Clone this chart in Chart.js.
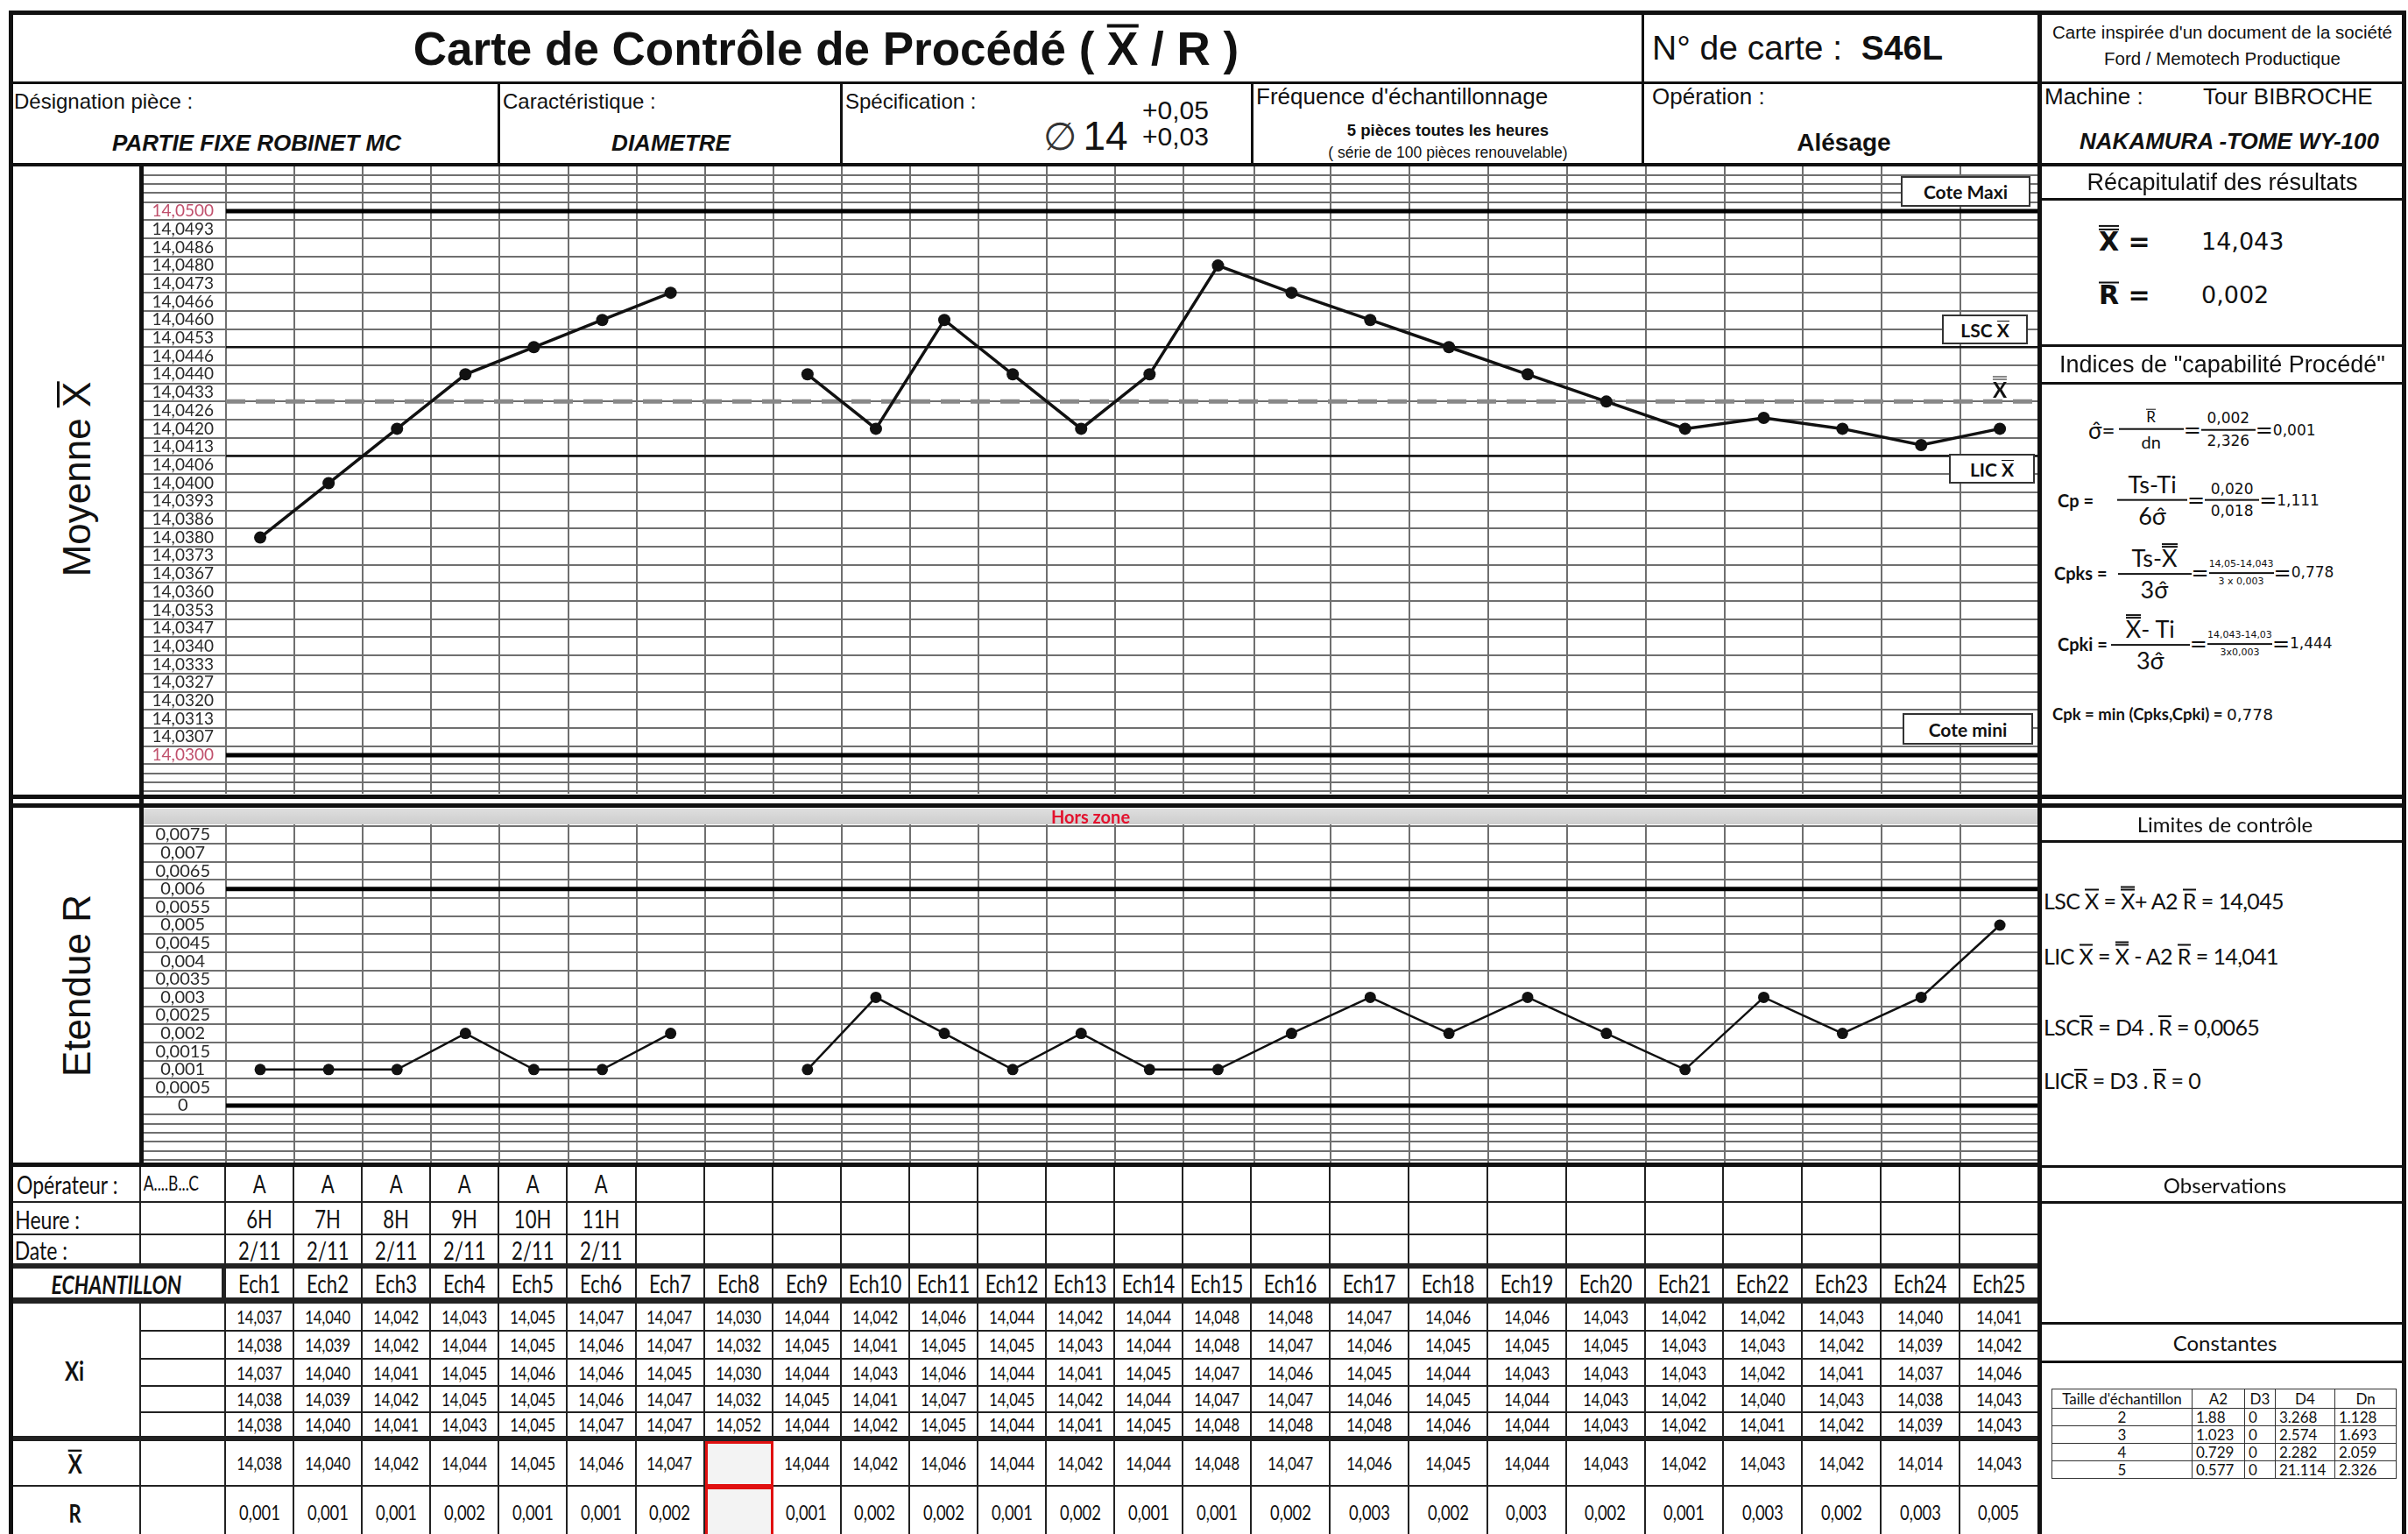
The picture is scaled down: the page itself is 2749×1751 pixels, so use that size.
<!DOCTYPE html>
<html lang="fr">
<head>
<meta charset="utf-8">
<title>Carte de Contrôle de Procédé (X/R)</title>
<script src="https://cdn.jsdelivr.net/npm/chart.js@4.4.1/dist/chart.umd.min.js"></script>
<style>
  html, body { margin: 0; padding: 0; background: #fff; }
  #page { position: relative; width: 2749px; height: 1751px; overflow: hidden;
          font-family: "Liberation Sans", Arial, sans-serif; color: #111; }
  #page * { box-sizing: border-box; }
  .ln { position: absolute; background: #111; }
  .t { position: absolute; white-space: nowrap; line-height: 1; }
  .t.l { transform: translateY(-50%); }
  .t.c { transform: translate(-50%, -50%); text-align: center; }
  .t.row { display: flex; align-items: center; }
  .cal { font-family: Lato, "Noto Sans", sans-serif; }
  .ver { font-family: "DejaVu Sans", sans-serif; }
  .bar { display: inline-block; border-top: 0.08em solid currentColor; line-height: 0.8; padding-top: 0.05em; }
  .dbar { display: inline-block; border-top: 0.2em double currentColor; line-height: 0.8; padding-top: 0.04em; }
  .box { position: absolute; background: #fff; border: 2px solid #333; display: flex;
         align-items: center; justify-content: center; font: bold 21px Lato, sans-serif; }
  canvas { position: absolute; }
  #sheet { position: absolute; left: 12px; top: 1330px; display: grid; }
  #sheet > div { border-right: 2px solid #222; border-bottom: 2px solid #222; display: flex;
                 align-items: center; justify-content: center; font-family: Lato, sans-serif;
                 font-size: 18px; white-space: nowrap; overflow: hidden; }
  .cond { display: inline-block; transform: scale(0.92, 1.18); }
  .frac { display: inline-flex; flex-direction: column; align-items: stretch; text-align: center; }
  .frac > span { display: block; line-height: 1.05; }
  .frac > span:first-child { border-bottom: 2px solid #111; padding-bottom: 3px; }
  .frac > span:last-child { padding-top: 3px; }
  .eq { font-family: "DejaVu Sans", sans-serif; font-size: 24px; line-height: 1; }
  #const { position: absolute; left: 2342px; top: 1585px; border-collapse: collapse;
           font: 17px Lato, sans-serif; }
  #const td { border: 1.5px solid #333; padding: 0 4px; height: 20px; line-height: 1; }
</style>
</head>
<body>
<div id="page">
  <canvas id="xbarChart" width="2167" height="716" style="left:161px; top:190px"></canvas>
  <canvas id="rangeChart" width="2167" height="407" style="left:161px; top:923px"></canvas>
  <div id="sheet"></div>
  <table id="const"></table>
</div>
<script>
// ---- sample data ----
const samples = ['Ech1', 'Ech2', 'Ech3', 'Ech4', 'Ech5', 'Ech6', 'Ech7', 'Ech8', 'Ech9', 'Ech10',
  'Ech11', 'Ech12', 'Ech13', 'Ech14', 'Ech15', 'Ech16', 'Ech17', 'Ech18', 'Ech19', 'Ech20',
  'Ech21', 'Ech22', 'Ech23', 'Ech24', 'Ech25'];
const operators = ['A', 'A', 'A', 'A', 'A', 'A'];
const hours = ['6H', '7H', '8H', '9H', '10H', '11H'];
const dates = ['2/11', '2/11', '2/11', '2/11', '2/11', '2/11'];

const xi1 = ['14,037', '14,040', '14,042', '14,043', '14,045', '14,047', '14,047', '14,030', '14,044', '14,042', '14,046', '14,044', '14,042', '14,044', '14,048', '14,048', '14,047', '14,046', '14,046', '14,043', '14,042', '14,042', '14,043', '14,040', '14,041'];
const xi2 = ['14,038', '14,039', '14,042', '14,044', '14,045', '14,046', '14,047', '14,032', '14,045', '14,041', '14,045', '14,045', '14,043', '14,044', '14,048', '14,047', '14,046', '14,045', '14,045', '14,045', '14,043', '14,043', '14,042', '14,039', '14,042'];
const xi3 = ['14,037', '14,040', '14,041', '14,045', '14,046', '14,046', '14,045', '14,030', '14,044', '14,043', '14,046', '14,044', '14,041', '14,045', '14,047', '14,046', '14,045', '14,044', '14,043', '14,043', '14,043', '14,042', '14,041', '14,037', '14,046'];
const xi4 = ['14,038', '14,039', '14,042', '14,045', '14,045', '14,046', '14,047', '14,032', '14,045', '14,041', '14,047', '14,045', '14,042', '14,044', '14,047', '14,047', '14,046', '14,045', '14,044', '14,043', '14,042', '14,040', '14,043', '14,038', '14,043'];
const xi5 = ['14,038', '14,040', '14,041', '14,043', '14,045', '14,047', '14,047', '14,052', '14,044', '14,042', '14,045', '14,044', '14,041', '14,045', '14,048', '14,048', '14,048', '14,046', '14,044', '14,043', '14,042', '14,041', '14,042', '14,039', '14,043'];
const xbarRow = ['14,038', '14,040', '14,042', '14,044', '14,045', '14,046', '14,047', '', '14,044', '14,042', '14,046', '14,044', '14,042', '14,044', '14,048', '14,047', '14,046', '14,045', '14,044', '14,043', '14,042', '14,043', '14,042', '14,014', '14,043'];
const rangeRow = ['0,001', '0,001', '0,001', '0,002', '0,001', '0,001', '0,002', '', '0,001', '0,002', '0,002', '0,001', '0,002', '0,001', '0,001', '0,002', '0,003', '0,002', '0,003', '0,002', '0,001', '0,003', '0,002', '0,003', '0,005'];

// plotted points (sample 8 rejected: no point)
const xbarPoints = [14.038, 14.040, 14.042, 14.044, 14.045, 14.046, 14.047, null, 14.044, 14.042, 14.046, 14.044, 14.042, 14.044, 14.048, 14.047, 14.046, 14.045, 14.044, 14.043, 14.042, 14.0424, 14.042, 14.0414, 14.042];
const rangePoints = [0.001, 0.001, 0.001, 0.002, 0.001, 0.001, 0.002, null, 0.001, 0.003, 0.002, 0.001, 0.002, 0.001, 0.001, 0.002, 0.003, 0.002, 0.003, 0.002, 0.001, 0.003, 0.002, 0.003, 0.005];

const xbarTicks = ['14,0300', '14,0307', '14,0313', '14,0320', '14,0327', '14,0333', '14,0340', '14,0347', '14,0353', '14,0360', '14,0367', '14,0373', '14,0380', '14,0386', '14,0393', '14,0400', '14,0406', '14,0413', '14,0420', '14,0426', '14,0433', '14,0440', '14,0446', '14,0453', '14,0460', '14,0466', '14,0473', '14,0480', '14,0486', '14,0493', '14,0500'];
const rangeTicks = ['0', '0,0005', '0,001', '0,0015', '0,002', '0,0025', '0,003', '0,0035', '0,004', '0,0045', '0,005', '0,0055', '0,006', '0,0065', '0,007', '0,0075'];

const coteMaxi = 14.05, coteMini = 14.03, lscX = 14.045, licX = 14.041, xbarbar = 14.043;
const rLimitHigh = 0.006, rLimitLow = 0;

const sampleSizes = ['2', '3', '4', '5'];
const a2 = ['1.88', '1.023', '0.729', '0.577'];
const d3 = ['0', '0', '0', '0'];
const d4 = ['3.268', '2.574', '2.282', '21.114'];
const dn = ['1.128', '1.693', '2.059', '2.326'];

// ---- sheet geometry: the first 15 sample columns are narrower than the last 10 ----
const columnWidths = Array(15).fill(78.1).concat(Array(10).fill(89.85));
const GRID = '#6f6f6f';

// category axis whose columns follow the sheet widths
class SheetColumns extends Chart.CategoryScale {
  getPixelForValue(value) {
    if (typeof value !== 'number') value = this.parse(value);
    if (value === null || isNaN(value)) return NaN;
    const total = columnWidths.reduce((a, b) => a + b, 0);
    let acc = columnWidths[value] / 2;
    for (let i = 0; i < value; i++) acc += columnWidths[i];
    return this.getPixelForDecimal(acc / total);
  }
}
SheetColumns.id = 'sheetColumns';
SheetColumns.defaults = Chart.CategoryScale.defaults;
Chart.register(SheetColumns);

// horizontal limit lines across the plot area
const limitLines = {
  id: 'limitLines',
  beforeDatasetsDraw(chart, args, opts) {
    const { ctx, chartArea: a, scales: { y } } = chart;
    (opts.lines || []).forEach(l => {
      const py = y.getPixelForValue(l.value);
      ctx.save();
      ctx.strokeStyle = l.color;
      ctx.lineWidth = l.width;
      ctx.setLineDash(l.dash || []);
      ctx.beginPath();
      ctx.moveTo(a.left, py);
      ctx.lineTo(a.right, py);
      ctx.stroke();
      ctx.restore();
    });
  }
};

// labelled ticks every step, ruled lines half-way between them
function halfTicks(first, step) {
  return scale => {
    const half = step / 2;
    const k0 = Math.ceil((scale.min - first) / half - 1e-6);
    const k1 = Math.floor((scale.max - first) / half + 1e-6);
    const ticks = [];
    for (let k = k0; k <= k1; k++) ticks.push({ value: first + k * half });
    scale.ticks = ticks;
  };
}
function halfTickLabel(labels, first, step) {
  return value => {
    const k = Math.round((value - first) / (step / 2));
    if (k % 2 !== 0) return '';
    const j = k / 2;
    return j >= 0 && j < labels.length ? labels[j] : '';
  };
}

function axisOptions(min, max, labels, first, step, fontSize, padding, labelColor) {
  return {
    x: {
      type: 'sheetColumns', offset: true,
      grid: { offset: true, color: GRID, lineWidth: 2, drawTicks: false },
      border: { display: false },
      ticks: { display: false }
    },
    y: {
      type: 'linear', min: min, max: max, bounds: 'data',
      afterBuildTicks: halfTicks(first, step),
      afterFit: s => { s.width = 97; s.paddingTop = 0; s.paddingBottom = 0; },
      border: { display: false },
      grid: {
        color: c => (c.tick && c.tick.label === '') ? GRID : 'rgba(0,0,0,0)',
        lineWidth: 2, drawTicks: true, tickLength: 97
      },
      ticks: {
        autoSkip: false, crossAlign: 'center', padding: padding,
        font: { family: 'Lato', size: fontSize },
        color: labelColor,
        callback: halfTickLabel(labels, first, step)
      }
    }
  };
}

function baseOptions() {
  return {
    responsive: false, animation: false, events: [], devicePixelRatio: 1,
    layout: { padding: 0, autoPadding: false }
  };
}

new Chart(document.getElementById('xbarChart'), {
  type: 'line',
  data: {
    labels: samples,
    datasets: [{
      data: xbarPoints, borderColor: '#111', borderWidth: 3.5, tension: 0, spanGaps: false,
      pointRadius: 7, pointBackgroundColor: '#111', pointBorderWidth: 0
    }]
  },
  options: Object.assign(baseOptions(), {
    plugins: {
      legend: { display: false }, tooltip: { enabled: false },
      limitLines: {
        lines: [
          { value: coteMaxi, color: '#000', width: 5 },
          { value: coteMini, color: '#000', width: 5 },
          { value: lscX, color: '#111', width: 2.5 },
          { value: licX, color: '#111', width: 2.5 },
          { value: xbarbar, color: '#888', width: 5, dash: [22, 12] }
        ]
      }
    },
    scales: axisOptions(14.028583, 14.051643, xbarTicks, 14.03, 0.02 / 30, 19, -83,
      c => (c.tick.label === '14,0500' || c.tick.label === '14,0300') ? '#c0506c' : '#2a2a2a')
  }),
  plugins: [limitLines]
});

new Chart(document.getElementById('rangeChart'), {
  type: 'line',
  data: {
    labels: samples,
    datasets: [{
      data: rangePoints, borderColor: '#111', borderWidth: 2.5, tension: 0, spanGaps: false,
      pointRadius: 6.5, pointBackgroundColor: '#111', pointBorderWidth: 0
    }]
  },
  options: Object.assign(baseOptions(), {
    plugins: {
      legend: { display: false }, tooltip: { enabled: false },
      limitLines: {
        lines: [
          { value: rLimitHigh, color: '#000', width: 5 },
          { value: rLimitLow, color: '#000', width: 5 }
        ]
      }
    },
    scales: axisOptions(-0.00165, 0.008228, rangeTicks, 0, 0.0005, 20, -79, '#2a2a2a')
  }),
  plugins: [limitLines]
});

// ---- form layout ----
const page = document.getElementById('page');
function line(x, y, w, h, color) {
  const d = document.createElement('div');
  d.className = 'ln';
  Object.assign(d.style, { left: x + 'px', top: y + 'px', width: w + 'px', height: h + 'px' });
  if (color) d.style.background = color;
  page.appendChild(d);
}
function text(html, x, y, css, align) {
  const d = document.createElement('div');
  d.className = 't ' + (align || 'l');
  d.innerHTML = html;
  d.style.left = x + 'px';
  d.style.top = y + 'px';
  if (css) d.style.cssText += css;
  page.appendChild(d);
  return d;
}
function box(html, x, y, w, h) {
  const d = document.createElement('div');
  d.className = 'box';
  d.innerHTML = '<span>' + html + '</span>';
  Object.assign(d.style, { left: x + 'px', top: y + 'px', width: w + 'px', height: h + 'px' });
  page.appendChild(d);
}
function frac(num, den, css) {
  return `<span class="frac" style="${css || ''}"><span>${num}</span><span>${den}</span></span>`;
}
const X1 = '<span class="bar">X</span>';
const X2 = '<span class="dbar">X</span>';
const R1 = '<span class="bar">R</span>';
const SIG = 'σ̂';

// gray "out of range" strip on top of the range chart
const band = document.createElement('div');
Object.assign(band.style, { position: 'absolute', left: '161px', top: '923px', width: '2167px', height: '18px',
  background: 'linear-gradient(#dedede, #cdcdcd)' });
page.appendChild(band);
text('Hors zone', 1245, 932, 'font: bold 20px Lato; color: #e3122e', 'c');

// frame
line(10, 12, 2737, 5);
line(10, 12, 5, 1745);
line(2742, 12, 5, 1745);
line(10, 93, 2737, 3);
line(10, 186, 2737, 4);
line(1874, 12, 3, 176);
line(568, 93, 3, 95);
line(959, 93, 3, 95);
line(1428, 93, 3, 95);
line(2326, 12, 5, 1745);
line(159, 188, 5, 1142);
line(10, 907, 2737, 5);
line(10, 917, 2737, 5);
line(10, 1327, 2318, 5);
[226, 393, 436, 959, 1330, 1371, 1509, 1553].forEach(y => line(2328, y, 417, 3));

// header
text(`Carte de Contrôle de Procédé ( ${X1} / R )`, 943, 55, 'font: bold 53px "Liberation Sans"', 'c');
text('N° de carte :&nbsp; <b>S46L</b>', 1886, 55, 'font: 39px "Liberation Sans"');
text('Carte inspirée d\'un document de la société', 2537, 37, 'font: 20.5px "Liberation Sans"', 'c');
text('Ford / Memotech Productique', 2537, 67, 'font: 20.5px "Liberation Sans"', 'c');
text('Désignation pièce :', 16, 116, 'font: 24px "Liberation Sans"');
text('PARTIE FIXE ROBINET MC', 293, 163, 'font: italic bold 26px "Liberation Sans"', 'c');
text('Caractéristique :', 574, 116, 'font: 24px "Liberation Sans"');
text('DIAMETRE', 766, 163, 'font: italic bold 26px "Liberation Sans"', 'c');
text('Spécification :', 965, 116, 'font: 24px "Liberation Sans"');
text('∅', 1210, 155, 'font: 44px "DejaVu Sans"; font-weight: 200; color: #333', 'c');
text('14', 1262, 155, 'font: 46px "Liberation Sans"', 'c');
text('+0,05', 1342, 126, 'font: 30px "Liberation Sans"', 'c');
text('+0,03', 1342, 156, 'font: 30px "Liberation Sans"', 'c');
text('Fréquence d\'échantillonnage', 1434, 110, 'font: 26px "Liberation Sans"');
text('5 pièces toutes les heures', 1653, 149, 'font: bold 18.5px "Liberation Sans"', 'c');
text('( série de 100 pièces renouvelable)', 1653, 174, 'font: 17.5px "Liberation Sans"', 'c');
text('Opération :', 1886, 110, 'font: 26px "Liberation Sans"');
text('Alésage', 2105, 163, 'font: bold 28px "Liberation Sans"', 'c');
text('Machine :', 2334, 110, 'font: 26px "Liberation Sans"');
text('Tour BIBROCHE', 2515, 110, 'font: 26px "Liberation Sans"');
text('NAKAMURA -TOME WY-100', 2545, 161, 'font: italic bold 26px "Liberation Sans"', 'c');

// axis captions
text(`Moyenne ${X1}`, 88, 547, 'font: 44px "Liberation Sans"; transform: translate(-50%,-50%) rotate(-90deg)', 'c');
text('Etendue R', 88, 1125, 'font: 44px "Liberation Sans"; transform: translate(-50%,-50%) rotate(-90deg)', 'c');

// limit tags on the mean chart
box('Cote Maxi', 2170, 201, 148, 35);
box(`LSC ${X1}`, 2217, 359, 98, 34);
text(X2, 2283, 444, 'font: bold 24px Lato', 'c');
box(`LIC ${X1}`, 2225, 518, 98, 34);
box('Cote mini', 2172, 814, 149, 36);

// summary panel
text('Récapitulatif des résultats', 2537, 208, 'font: 27px "Liberation Sans"', 'c');
text(`${X2} =`, 2396, 275, 'font: bold 30px "DejaVu Sans"');
text('14,043', 2513, 275, 'font: 27px "DejaVu Sans"');
text(`${R1} =`, 2396, 336, 'font: bold 30px "DejaVu Sans"');
text('0,002', 2513, 336, 'font: 27px "DejaVu Sans"');
text('Indices de "capabilité Procédé"', 2537, 416, 'font: 27px "Liberation Sans"', 'c');

const numCss = 'font:17px \'DejaVu Sans\'';
const tinyCss = 'font:11px \'DejaVu Sans\'';
const valHtml = v => `<span class="eq">=</span><span class="ver" style="font-size:17px">${v}</span>`;
text(`<span class="cal" style="font-size:26px">${SIG}=</span>` +
  frac(`<span class="cal" style="font-size:17px">${R1}</span>`, '<span class="cal" style="font-size:20px">dn</span>', 'width:74px;margin-left:4px') +
  '<span class="eq">=</span>' +
  frac('0,002', '2,326', 'width:62px;' + numCss) + valHtml('0,001'), 2384, 491, '', 'l row');
text('<b class="cal" style="font-size:20px">Cp =</b>' +
  frac('Ts-Ti', `6${SIG}`, 'width:80px;margin-left:27px;font:27px Lato') +
  '<span class="eq">=</span>' +
  frac('0,020', '0,018', 'width:62px;' + numCss) + valHtml('1,111'), 2349, 571, '', 'l row');
text('<b class="cal" style="font-size:20px">Cpks =</b>' +
  frac(`Ts-${X2}`, `3${SIG}`, 'width:84px;margin-left:12px;font:27px Lato') +
  '<span class="eq">=</span>' +
  frac('14,05-14,043', '3 x 0,003', 'width:74px;' + tinyCss) + valHtml('0,778'), 2345, 654, '', 'l row');
text('<b class="cal" style="font-size:20px">Cpki =</b>' +
  frac(`${X2}- Ti`, `3${SIG}`, 'width:90px;margin-left:4px;font:27px Lato') +
  '<span class="eq">=</span>' +
  frac('14,043-14,03', '3x0,003', 'width:74px;' + tinyCss) + valHtml('1,444'), 2349, 735, '', 'l row');
text('<b>Cpk = min (Cpks,Cpki) = </b><span class="ver">0,778</span>', 2343, 815, 'font: 18.5px Lato');

text('Limites de contrôle', 2540, 940, 'font: 24px Lato', 'c');
const limCss = 'font: 25px Lato; letter-spacing: -0.6px';
text(`LSC ${X1} = ${X2}+ A2 ${R1} = 14,045`, 2333, 1027, limCss);
text(`LIC ${X1} = ${X2} - A2 ${R1} = 14,041`, 2333, 1090, limCss);
text(`LSC${R1} = D4 . ${R1} = 0,0065`, 2333, 1172, limCss);
text(`LIC${R1} = D3 . ${R1} = 0`, 2333, 1233, limCss);
text('Observations', 2540, 1352, 'font: 24px Lato', 'c');
text('Constantes', 2540, 1532, 'font: 24px Lato', 'c');

// constants table
const ct = document.getElementById('const');
const colW = [160, 60, 35, 68, 70];
let html = '<tr>' + ['Taille d\'échantillon', 'A2', 'D3', 'D4', 'Dn']
  .map((h, i) => `<td style="width:${colW[i]}px;text-align:center;height:22px">${h}</td>`).join('') + '</tr>';
sampleSizes.forEach((n, i) => {
  html += `<tr><td style="text-align:center">${n}</td><td>${a2[i]}</td><td>${d3[i]}</td><td>${d4[i]}</td><td>${dn[i]}</td></tr>`;
});
ct.innerHTML = html;

// data sheet under the charts
const sheet = document.getElementById('sheet');
sheet.style.gridTemplateColumns = '149px 97px ' + columnWidths.map(w => w + 'px').join(' ');
sheet.style.gridTemplateRows = '43px 37px 38px 40px 32px 32px 31px 30px 32px 52px 60px';
function cell(row, col, content, css, colSpan, rowSpan) {
  const d = document.createElement('div');
  d.style.gridRow = rowSpan ? `${row} / span ${rowSpan}` : String(row);
  d.style.gridColumn = colSpan ? `${col} / span ${colSpan}` : String(col);
  d.innerHTML = content === '' ? '' : `<span class="cond">${content}</span>`;
  if (css) d.style.cssText += css;
  sheet.appendChild(d);
  return d;
}
const leftCss = 'justify-content:flex-start;padding-left:2px;font-size:25px';
cell(1, 1, 'Opérateur :', leftCss);
cell(1, 2, 'A....B...C', 'justify-content:flex-start;padding-left:0;font-size:19px');
cell(2, 1, 'Heure :', leftCss);
cell(2, 2, '');
cell(3, 1, 'Date :', leftCss + ';border-bottom-width:6px');
cell(3, 2, '', 'border-bottom-width:6px');
cell(4, 1, 'ECHANTILLON', 'font: italic bold 25px Lato; border-bottom-width:7px; border-right-width:5px', 2);
cell(5, 1, 'Xi', 'font: bold 26px Lato; border-bottom-width:6px', 0, 5);
cell(10, 1, X1, 'font: bold 26px Lato');
cell(10, 2, '');
cell(11, 1, 'R', 'font: bold 24px Lato');
cell(11, 2, '');
const xiRows = [xi1, xi2, xi3, xi4, xi5];
xiRows.forEach((r, k) => cell(5 + k, 2, '', k === 4 ? 'border-bottom-width:6px' : ''));
samples.forEach((s, i) => {
  const col = 3 + i;
  cell(1, col, operators[i] || '', 'font-size:24px');
  cell(2, col, hours[i] || '', 'font-size:24px');
  cell(3, col, dates[i] || '', 'font-size:24px;border-bottom-width:6px');
  cell(4, col, s, 'font-size:24px;border-bottom-width:7px');
  xiRows.forEach((r, k) => cell(5 + k, col, r[i], 'font-size:18px' + (k === 4 ? ';border-bottom-width:6px' : '')));
  const red = xbarRow[i] === '' ? ';border:3px solid #e01010;background:#f3f3f3' : '';
  cell(10, col, xbarRow[i], 'font-size:18px' + red);
  cell(11, col, rangeRow[i], 'font-size:20px' + red);
});
</script>
</body>
</html>
